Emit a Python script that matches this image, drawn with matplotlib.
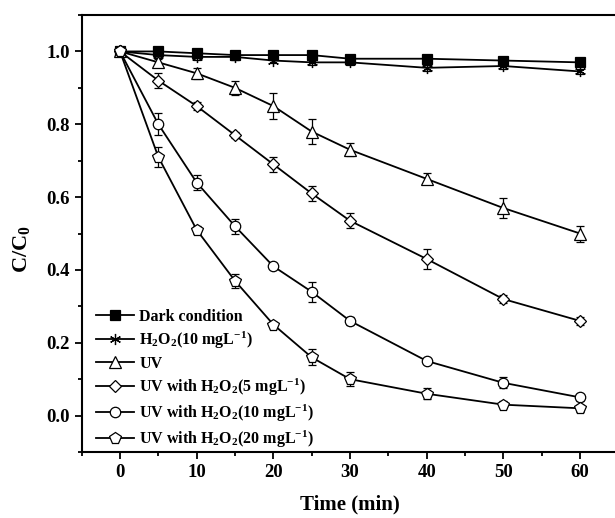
import matplotlib
matplotlib.use("Agg")
import matplotlib.pyplot as plt
from matplotlib.ticker import MultipleLocator

plt.rcParams["font.family"] = ["Liberation Serif", "DejaVu Serif"]
plt.rcParams["font.weight"] = "bold"
plt.rcParams["mathtext.default"] = "regular"

# data
time = [0, 5, 10, 15, 20, 25, 30, 40, 50, 60]

dark = [1.0, 1.0, 0.995, 0.99, 0.99, 0.99, 0.98, 0.98, 0.975, 0.97]
dark_err = [0, 0.005, 0.005, 0.005, 0.005, 0.005, 0.005, 0.005, 0.005, 0.005]

h2o2 = [1.0, 0.99, 0.985, 0.985, 0.975, 0.97, 0.97, 0.955, 0.96, 0.945]
h2o2_err = [0, 0.008, 0.008, 0.008, 0.008, 0.008, 0.008, 0.008, 0.008, 0.008]

uv = [1.0, 0.97, 0.94, 0.90, 0.85, 0.78, 0.73, 0.65, 0.57, 0.50]
uv_err = [0, 0.01, 0.015, 0.02, 0.035, 0.035, 0.018, 0.015, 0.028, 0.022]

uv5 = [1.0, 0.92, 0.85, 0.77, 0.69, 0.61, 0.535, 0.43, 0.32, 0.26]
uv5_err = [0, 0.02, 0.012, 0.008, 0.02, 0.02, 0.02, 0.028, 0.01, 0.01]

uv10 = [1.0, 0.80, 0.64, 0.52, 0.41, 0.34, 0.26, 0.15, 0.09, 0.05]
uv10_err = [0, 0.03, 0.02, 0.02, 0.008, 0.028, 0.012, 0.008, 0.015, 0.01]

uv20 = [1.0, 0.71, 0.51, 0.37, 0.25, 0.16, 0.10, 0.06, 0.03, 0.02]
uv20_err = [0, 0.028, 0.01, 0.02, 0.008, 0.022, 0.02, 0.015, 0.01, 0.01]

labels = [
    "Dark condition",
    "H$_2$O$_2$(10 mgL$^{-1}$)",
    "UV",
    "UV with H$_2$O$_2$(5 mgL$^{-1}$)",
    "UV with H$_2$O$_2$(10 mgL$^{-1}$)",
    "UV with H$_2$O$_2$(20 mgL$^{-1}$)",
]
series = [dark, h2o2, uv, uv5, uv10, uv20]
errors = [dark_err, h2o2_err, uv_err, uv5_err, uv10_err, uv20_err]
markers = ["s", "x", "^", "D", "o", "p"]

fig = plt.figure(figsize=(6.15, 5.18), dpi=100)
ax = fig.add_axes([0.1328, 0.1274, 0.8727, 0.8436])

for y, err, m, lab in zip(series, errors, markers, labels):
    face = "black" if m == "s" else "white"
    size = {"s": 7.5, "x": 8, "^": 8.5, "D": 6.5, "o": 7.5, "p": 8.5}[m]
    if m == "x":
        m = (6, 2, 0)  # asterisk
    ax.errorbar(time, y, yerr=err, color="black", marker=m, markersize=size,
                markerfacecolor=face, markeredgecolor="black", markeredgewidth=0.9,
                linewidth=1.3, elinewidth=0.9, capsize=3, capthick=0.9, label=lab)

ax.set_xlim(-5, 65)
ax.set_ylim(-0.1, 1.1)
ax.xaxis.set_major_locator(MultipleLocator(10))
ax.xaxis.set_minor_locator(MultipleLocator(5))
ax.yaxis.set_major_locator(MultipleLocator(0.2))
ax.yaxis.set_minor_locator(MultipleLocator(0.1))
ax.tick_params(which="major", direction="out", length=5, width=1.3, labelsize=13.5)
ax.tick_params(which="minor", direction="out", length=3, width=1.3)
for lbl in ax.get_xticklabels() + ax.get_yticklabels():
    lbl.set_fontweight("bold")
for sp in ax.spines.values():
    sp.set_linewidth(1.5)

ax.set_xlabel("Time (min)", fontsize=15, fontweight="bold")
ax.xaxis.set_label_coords(0.5, -0.097)
ax.set_ylabel("C/C$_0$", fontsize=16, fontweight="bold")
ax.yaxis.set_label_coords(-0.093, 0.465)

handles, labs = ax.get_legend_handles_labels()
handles = [h[0] for h in handles]
ax.legend(handles, labs, loc="lower left", bbox_to_anchor=(0.0, -0.028), frameon=False,
          prop={"weight": "bold", "size": 11.5}, handlelength=2.4, handletextpad=0.3,
          labelspacing=0.3, borderaxespad=0.5)

fig.savefig("out.png", dpi=100)
